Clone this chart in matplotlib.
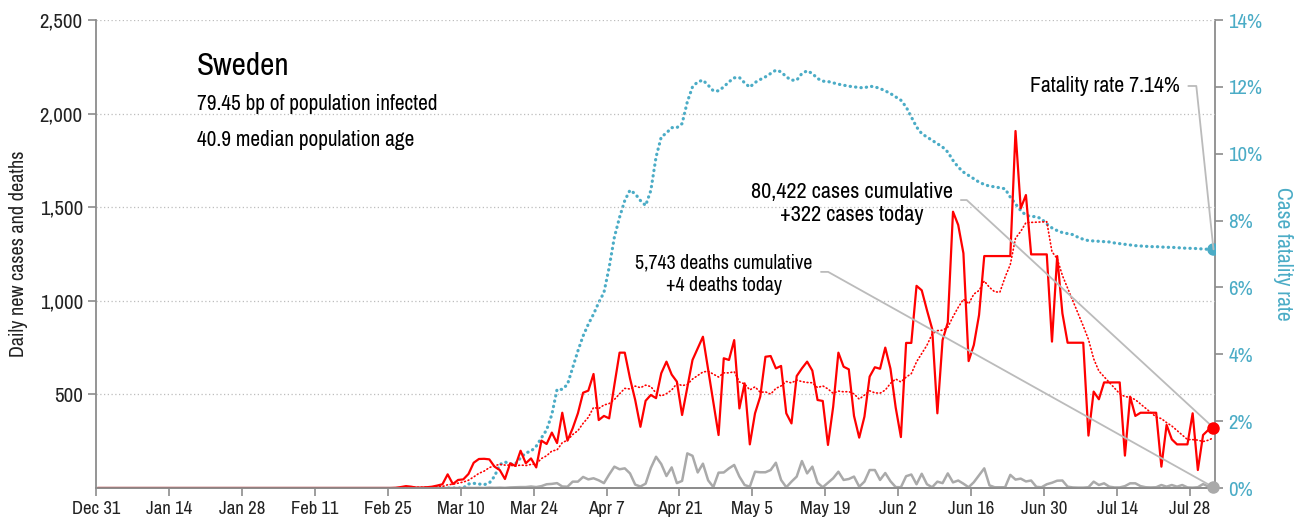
import matplotlib
matplotlib.use("Agg")
import matplotlib.pyplot as plt
import matplotlib.dates as mdates
from matplotlib.ticker import FuncFormatter
import pandas as pd

# daily values, Sweden 2020 (Dec 31 = day 0)
cases = [0] * 57 + [
    1, 5, 10, 7, 2, 2, 4, 7, 13, 20,
    73, 21, 43, 46, 75, 135, 155, 156, 153, 114,
    96, 48, 132, 118, 199, 132, 158, 110, 253, 235,
    296, 240, 402, 253, 319, 399, 509, 520, 609, 363,
    385, 372, 550, 723, 723, 586, 470, 327, 466, 497,
    480, 613, 675, 606, 568, 390, 537, 684, 746, 808,
    633, 458, 283, 693, 684, 790, 425, 559, 233, 399,
    488, 701, 705, 639, 652, 399, 345, 598, 639, 675,
    627, 470, 465, 230, 434, 723, 648, 634, 385, 269,
    381, 595, 645, 637, 750, 637, 430, 272, 775, 775,
    1080, 1056, 950, 850, 399, 790, 884, 1476, 1405, 1254,
    678, 764, 924, 1239, 1239, 1239, 1239, 1239, 1239, 1907,
    1494, 1565, 1248, 1248, 1248, 1248, 782, 1239, 933, 776,
    776, 776, 776, 280, 515, 474, 564, 564, 564, 564,
    173, 488, 385, 402, 402, 402, 402, 114, 337, 260,
    233, 233, 233, 399, 96, 283, 310, 322,
]

deaths = [0] * 71 + [
    1, 0, 1, 0, 2, 1, 2, 1, 3, 4,
    5, 5, 8, 5, 10, 20, 22, 26, 8, 7,
    34, 34, 59, 46, 52, 41, 26, 72, 114, 100,
    105, 78, 18, 8, 23, 107, 167, 128, 64, 110,
    26, 38, 185, 172, 83, 130, 41, 5, 82, 83,
    105, 123, 61, 16, 7, 87, 84, 84, 96, 135,
    43, 4, 34, 61, 144, 78, 114, 28, 4, 28,
    52, 87, 43, 48, 61, 7, 34, 96, 96, 43,
    80, 36, 5, 4, 63, 72, 20, 76, 20, 4,
    34, 26, 78, 30, 40, 23, 4, 31, 68, 105,
    14, 4, 4, 4, 70, 45, 50, 35, 40, 6,
    4, 20, 28, 39, 40, 7, 3, 2, 2, 4,
    34, 16, 25, 7, 3, 3, 10, 25, 25, 10,
    4, 3, 4, 16, 7, 16, 7, 16, 3, 2,
    4, 21, 8, 4,
]

# case fatality rate in %, from Mar 3
cfr_start = "2020-03-03 12:00"
cfr = [
    0, 0, 0, 0, 0, 0, 0, 0, 0.12, 0.14,
    0.12, 0.1, 0.15, 0.35, 0.7, 0.78, 0.72, 0.72, 0.9, 1.05,
    1.1, 1.25, 1.5, 1.74, 2.2, 2.95, 2.95, 3.1, 3.6, 4.1,
    4.55, 4.9, 5.2, 5.55, 5.85, 6.6, 7.5, 8.1, 8.6, 8.91,
    8.8, 8.6, 8.45, 8.9, 9.9, 10.5, 10.62, 10.78, 10.78, 10.9,
    11.55, 12.0, 12.15, 12.2, 12.05, 11.88, 11.88, 12.0, 12.15, 12.27,
    12.28, 12.12, 11.99, 12.13, 12.22, 12.3, 12.4, 12.5, 12.45, 12.3,
    12.2, 12.2, 12.4, 12.48, 12.4, 12.25, 12.17, 12.16, 12.12, 12.08,
    12.05, 12.02, 12.0, 11.98, 11.97, 12.02, 12.0, 11.95, 11.88, 11.8,
    11.7, 11.6, 11.4, 11.1, 10.8, 10.6, 10.5, 10.4, 10.3, 10.2,
    10.05, 9.8, 9.6, 9.45, 9.35, 9.25, 9.15, 9.08, 9.03, 9.01,
    8.98, 8.95, 8.7, 8.5, 8.3, 8.16, 8.12, 8.12, 8.05, 7.9,
    7.78, 7.7, 7.64, 7.61, 7.58, 7.5, 7.44, 7.4, 7.39, 7.38,
    7.37, 7.36, 7.33, 7.31, 7.29, 7.27, 7.25, 7.24, 7.23, 7.22,
    7.22, 7.21, 7.2, 7.2, 7.19, 7.18, 7.17, 7.17, 7.16, 7.15,
    7.14, 7.14,
]

country = "Sweden"
info_lines = ["79.45 bp of population infected", "40.9 median population age"]
cum_cases, cum_deaths = 80422, 5743
left_ticks = [500, 1000, 1500, 2000, 2500]
right_ticks = [0, 2, 4, 6, 8, 10, 12, 14]

RED = "#ff0000"
GREY = "#aaaaaa"
BLUE = "#4bacc6"
LEAD = "#bbbbbb"
AXC = "#8c8c8c"

plt.rcParams["font.family"] = ["Archivo Narrow", "Roboto Condensed", "DejaVu Sans"]

dates = pd.date_range("2019-12-31 12:00", periods=len(cases), freq="D")
cfr_dates = pd.date_range(cfr_start, periods=len(cfr), freq="D")
cases_avg = pd.Series(cases).rolling(7, min_periods=1).mean()

fig = plt.figure(figsize=(13.14, 5.26), dpi=100)
ax = fig.add_axes([96 / 1314, 38 / 526, 1119 / 1314, 468 / 526])
ax2 = ax.twinx()
ax.set_zorder(ax2.get_zorder() + 1)
ax.patch.set_visible(False)

ax2.plot(cfr_dates, cfr, color=BLUE, lw=2.3, ls=(0, (0.1, 1.6)), dash_capstyle="round")
ax2.plot(cfr_dates[-1], cfr[-1], "o", color=BLUE, ms=8, zorder=5)

ax.plot(dates, deaths, color=GREY, lw=1.8)
ax.plot(dates, cases_avg, color=RED, lw=1.2, ls=(0, (0.5, 1.7)), dash_capstyle="round")
ax.plot(dates, cases, color=RED, lw=1.6)
ax.plot(dates[-1], deaths[-1], "o", color=GREY, ms=8, zorder=5, clip_on=False)
ax.plot(dates[-1], cases[-1], "o", color=RED, ms=8, zorder=5, clip_on=False)

ax.set_xlim(pd.Timestamp("2019-12-31"), dates[-1] + pd.Timedelta(hours=7))
ax.set_ylim(0, 2500)
ax2.set_ylim(0, 14)

xt = pd.date_range("2019-12-31", "2020-07-28", freq="14D")
ax.set_xticks(xt)
ax.xaxis.set_major_formatter(mdates.DateFormatter("%b %-d"))
ax.set_yticks(left_ticks)
ax.yaxis.set_major_formatter(FuncFormatter(lambda v, p: f"{v:,.0f}"))
ax2.set_yticks(right_ticks)
ax2.yaxis.set_major_formatter(FuncFormatter(lambda v, p: f"{v:.0f}%"))

ax.yaxis.grid(True, color="#bdbdbd", ls=(0, (1, 2)), lw=0.9)
for a in (ax, ax2):
    a.spines["top"].set_visible(False)
    for s in a.spines.values():
        s.set_color(AXC)
        s.set_linewidth(1.3)
ax.spines["right"].set_visible(False)
ax2.spines["left"].set_visible(False)
ax.tick_params(colors=AXC, length=6, width=1.2, labelcolor="#222222")
ax.tick_params(axis="x", labelsize=13.5)
ax.tick_params(axis="y", labelsize=15)
ax2.tick_params(colors=AXC, length=6, width=1.2, labelsize=15, labelcolor=BLUE)

ax.set_ylabel("Daily new cases and deaths", fontsize=14.5, color="#222222")
ax.yaxis.set_label_coords(-0.0608, 0.5)
ax2.set_ylabel("Case fatality rate", fontsize=15.5, color=BLUE, rotation=270, va="center")
ax2.yaxis.set_label_coords(1.0608, 0.5)

ax.text(0.0903, 0.902, country, transform=ax.transAxes, fontsize=22.5, va="center", ha="left")
ax.text(0.0903, 0.8205, info_lines[0], transform=ax.transAxes, fontsize=15.3, va="center")
ax.text(0.0903, 0.7436, info_lines[1], transform=ax.transAxes, fontsize=15.3, va="center")

lead = dict(arrowstyle="-", color=LEAD, lw=1.3, shrinkA=4, shrinkB=0)
ax2.annotate(f"Fatality rate {cfr[-1]:.2f}%", xy=(cfr_dates[-1], cfr[-1]),
             xytext=(0.9687, 0.859), textcoords="axes fraction", ha="right", va="center",
             fontsize=15.7, zorder=6,
             arrowprops=dict(lead, relpos=(1, 0.5), connectionstyle="angle,angleA=0,angleB=-84,rad=0"))
ax.annotate(f"{cum_cases:,} cases cumulative\n+{cases[-1]} cases today", xy=(dates[-1], cases[-1]),
            xytext=(0.6752, 0.6079), textcoords="axes fraction", ha="center", va="center",
            fontsize=16, linespacing=1.2,
            arrowprops=dict(lead, relpos=(1, 0.58), connectionstyle="angle,angleA=0,angleB=-42.7,rad=0"))
ax.annotate(f"{cum_deaths:,} deaths cumulative\n+{deaths[-1]} deaths today", xy=(dates[-1], deaths[-1]),
            xytext=(0.5612, 0.4573), textcoords="axes fraction", ha="center", va="center",
            fontsize=14.3, linespacing=1.25,
            arrowprops=dict(lead, relpos=(1, 0.55), connectionstyle="angle,angleA=0,angleB=-29.2,rad=0"))

fig.savefig("out.png", dpi=100)
